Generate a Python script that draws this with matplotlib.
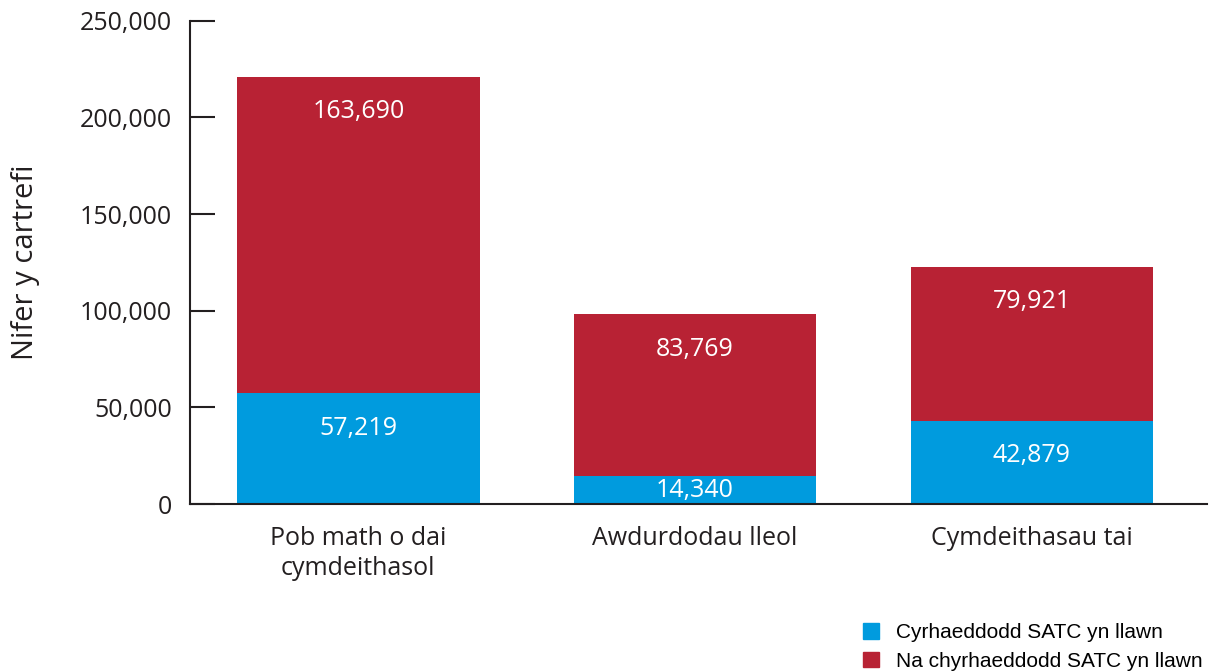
import matplotlib
matplotlib.use("Agg")
import matplotlib.pyplot as plt
from matplotlib.patches import Patch

categories = ["Pob math o dai\ncymdeithasol", "Awdurdodau lleol", "Cymdeithasau tai"]
met = [57219, 14340, 42879]
not_met = [163690, 83769, 79921]
labels = ["Cyrhaeddodd SATC yn llawn", "Na chyrhaeddodd SATC yn llawn"]

BLUE = "#009bde"
RED = "#b82234"
DARK = "#231f20"

plt.rcParams["font.family"] = ["Open Sans", "DejaVu Sans"]

fig = plt.figure(figsize=(12.1, 6.72), dpi=100)
ax = fig.add_axes([0.157, 0.25, 0.8405, 0.719])

x = list(range(len(categories)))
ax.bar(x, met, width=0.72, color=BLUE)
ax.bar(x, not_met, width=0.72, bottom=met, color=RED)

# value labels, placed a little below the top of each segment
off = 18000
for i in x:
    for base, val in [(0, met[i]), (met[i], not_met[i])]:
        top = base + val
        y = max(top - off, base + val / 2)
        ax.text(i, y, f"{val:,}", ha="center", va="center",
                color="white", fontsize=18)

ax.set_xlim(-0.5, 2.52)
ax.set_ylim(0, 250000)
ax.set_yticks(range(0, 250001, 50000))
ax.set_yticklabels([f"{v:,}" for v in range(0, 250001, 50000)])
ax.set_xticks(x)
ax.set_xticklabels(categories, fontsize=18, color=DARK, linespacing=1.25)
ax.tick_params(axis="x", length=0, pad=16)
ax.tick_params(axis="y", direction="in", length=18, width=1.5,
               color=DARK, labelsize=18, labelcolor=DARK, pad=13)

for s in ["top", "right"]:
    ax.spines[s].set_visible(False)
for s in ["left", "bottom"]:
    ax.spines[s].set_linewidth(1.5)
    ax.spines[s].set_color(DARK)

ax.set_ylabel("Nifer y cartrefi", fontsize=21, color=DARK, labelpad=29)

handles = [Patch(color=BLUE), Patch(color=RED)]
fig.legend(handles, labels, loc="upper left", bbox_to_anchor=(0.705, 0.088),
           frameon=False, handlelength=0.75, handleheight=0.75,
           handletextpad=0.8, labelspacing=0.45, borderpad=0,
           prop={"family": "Liberation Sans", "size": 15})

fig.savefig("out.png", dpi=100)
